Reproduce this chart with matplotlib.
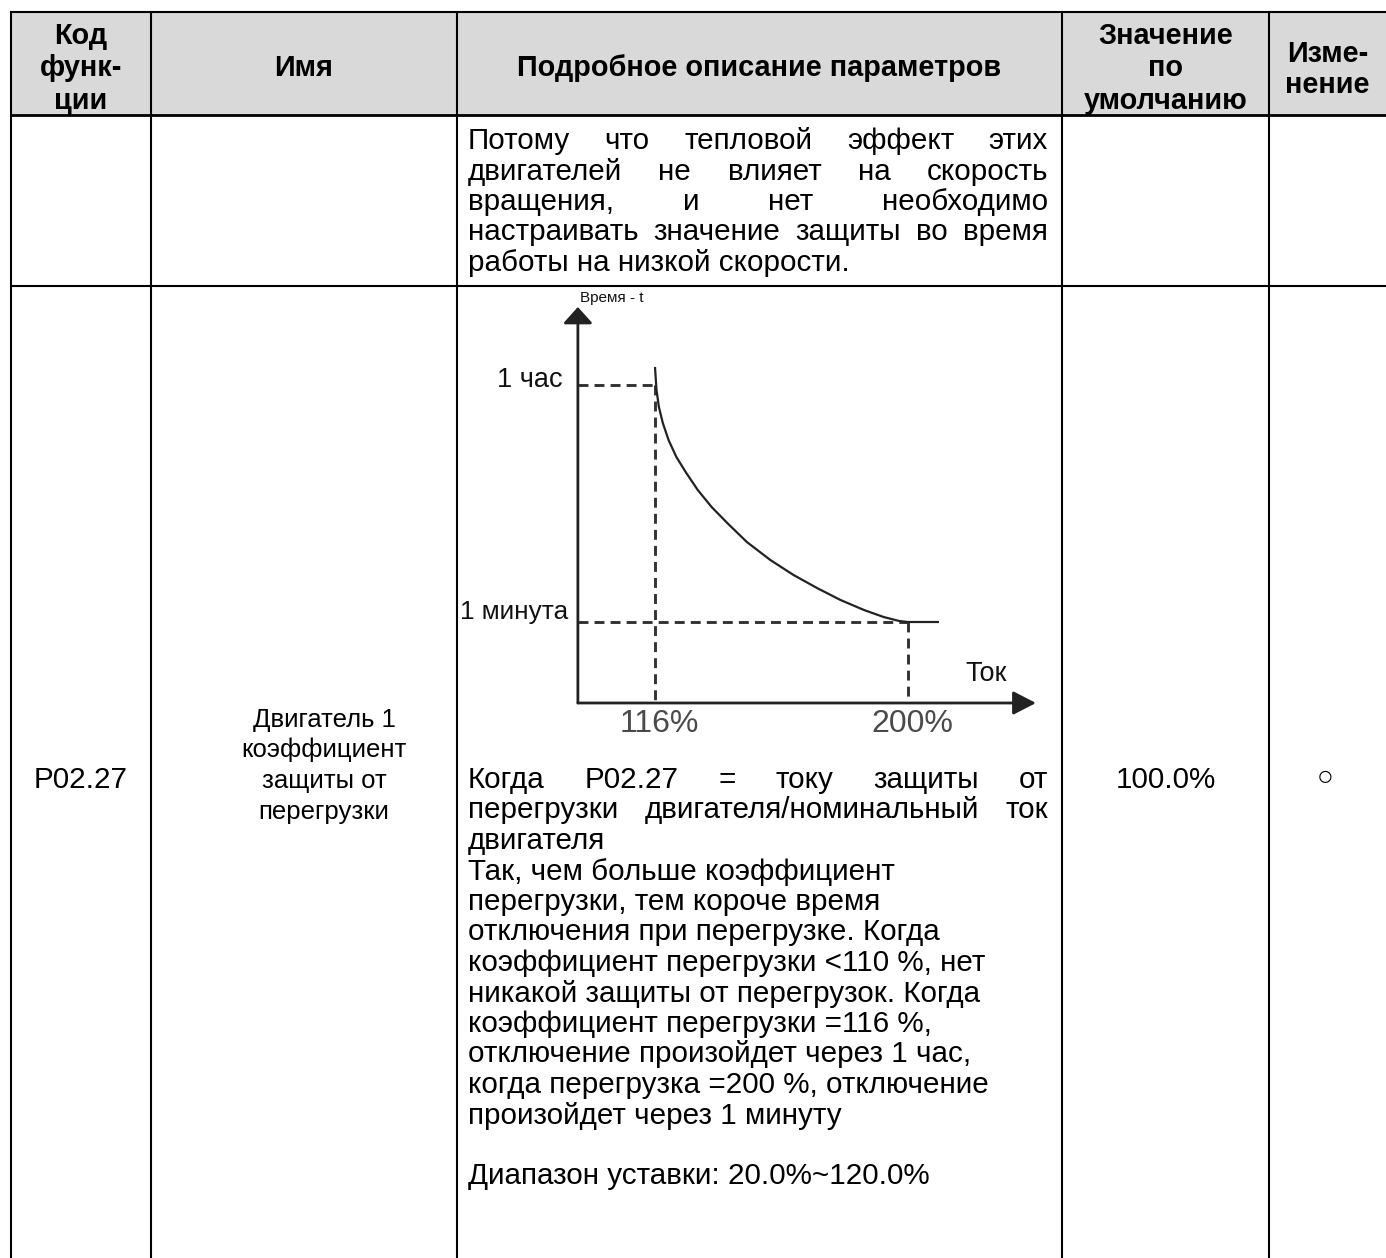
import matplotlib
matplotlib.use("Agg")
import matplotlib.pyplot as plt
from matplotlib.patches import Rectangle

W, H = 1386, 1258
FONT = ["Liberation Sans", "DejaVu Sans"]

# table content
header_code = ["Код", "функ-", "ции"]
header_name = ["Имя"]
header_desc = ["Подробное описание параметров"]
header_default = ["Значение", "по", "умолчанию"]
header_change = ["Изме-", "нение"]

row1_desc = [
    ("Потому что тепловой эффект этих", True),
    ("двигателей не влияет на скорость", True),
    ("вращения, и нет необходимо", True),
    ("настраивать значение защиты во время", True),
    ("работы на низкой скорости.", False),
]

row2_code = "P02.27"
row2_name = ["Двигатель 1", "коэффициент", "защиты от", "перегрузки"]
row2_desc = [
    ("Когда P02.27 = току защиты от", True),
    ("перегрузки двигателя/номинальный ток", True),
    ("двигателя", False),
    ("Так, чем больше коэффициент", False),
    ("перегрузки, тем короче время", False),
    ("отключения при перегрузке. Когда", False),
    ("коэффициент перегрузки <110 %, нет", False),
    ("никакой защиты от перегрузок. Когда", False),
    ("коэффициент перегрузки =116 %,", False),
    ("отключение произойдет через 1 час,", False),
    ("когда перегрузка =200 %, отключение", False),
    ("произойдет через 1 минуту", False),
    ("", False),
    ("Диапазон уставки: 20.0%~120.0%", False),
]
row2_default = "100.0%"
row2_change = "○"

# overload curve (x: current %, y: trip time, arbitrary scale)
curve_x = [116.0, 116.5, 117.3, 118.6, 120.5, 123.1, 126.4, 130.2, 134.8, 140.0,
           146.5, 154.3, 162.0, 169.8, 177.6, 185.4, 191.9, 197.1, 200.0, 210.3]
curve_y = [336, 313, 296, 280, 263, 246, 230, 213, 196, 180,
           161, 143, 128, 115, 103, 93, 86, 82, 81, 81]
tick_currents = [116, 200]
tick_labels = ["116%", "200%"]
time_levels = [318, 81]
time_labels = ["1 час", "1 минута"]

fig = plt.figure(figsize=(W / 100, H / 100), dpi=100)
ax = fig.add_axes([0, 0, 1, 1])
ax.set_xlim(0, W)
ax.set_ylim(H, 0)
ax.axis("off")

col_x = [11, 151, 457, 1062, 1269]
header_top, header_bottom, row1_bottom = 12, 115, 286

ax.add_patch(Rectangle((col_x[0], header_top), W - col_x[0], header_bottom - header_top,
                       facecolor="#d9d9d9", edgecolor="none"))
ax.plot([col_x[0], W], [header_top, header_top], color="black", lw=1.5)
ax.plot([col_x[0], W], [header_bottom, header_bottom], color="black", lw=2.0)
ax.plot([col_x[0], W], [row1_bottom, row1_bottom], color="black", lw=1.5)
for cx in col_x:
    ax.plot([cx, cx], [header_top, H], color="black", lw=1.5)


def centers(i):
    right = col_x[i + 1] if i + 1 < len(col_x) else W
    return (col_x[i] + right) / 2


def put_lines(lines, x, y0, step, **kw):
    for k, s in enumerate(lines):
        ax.text(x, y0 + k * step, s, ha="center", va="baseline", family=FONT, **kw)


hdr = dict(fontsize=20.8, fontweight="bold", color="black")
put_lines(header_code, centers(0), 44, 32.5, **hdr)
put_lines(header_name, centers(1), 76, 32.5, **hdr)
put_lines(header_desc, centers(2), 76, 32.5, **hdr)
put_lines(header_default, centers(3), 44, 32.5, **hdr)
put_lines(header_change, centers(4), 62, 31, **hdr)

fig.canvas.draw()
renderer = fig.canvas.get_renderer()
body = dict(fontsize=21.3, color="black")
text_left, text_right = 468, 1048


def draw_desc(lines, y0, step):
    for k, (s, justify) in enumerate(lines):
        y = y0 + k * step
        if not s:
            continue
        words = s.split(" ")
        if not justify or len(words) < 2:
            ax.text(text_left, y, s, ha="left", va="baseline", family=FONT, **body)
            continue
        objs = [ax.text(0, y, w, ha="left", va="baseline", family=FONT, **body) for w in words]
        widths = [o.get_window_extent(renderer).width for o in objs]
        gap = (text_right - text_left - sum(widths)) / (len(words) - 1)
        x = text_left
        for o, w in zip(objs, widths):
            o.set_x(x)
            x += w + gap


draw_desc(row1_desc, 149, 30.5)
draw_desc(row2_desc, 788, 30.5)

put_lines([row2_code], centers(0), 788, 30.5, **body)
put_lines(row2_name, 324, 727, 30.5, fontsize=18.5, color="black")
put_lines([row2_default], centers(3), 788, 30.5, **body)
ax.text(centers(4) - 2, 778, row2_change, ha="center", va="center", family=FONT,
        fontsize=20, color="black")

# embedded chart
cx0, cx1, cy_top, cy_bot = 560, 1045, 295, 710
ax2 = fig.add_axes([cx0 / W, 1 - cy_bot / H, (cx1 - cx0) / W, (cy_bot - cy_top) / H])
ax2.set_xlim(84.46, 245.5)
ax2.set_ylim(-7, 408)
ax2.axis("off")
ax2.patch.set_alpha(0)

x_origin = 90.4
ax2.annotate("", xy=(242.5, 0), xytext=(x_origin, 0),
             arrowprops=dict(arrowstyle="-|>,head_length=0.7,head_width=0.36",
                             mutation_scale=20, lw=2.0, color="#222222",
                             shrinkA=0, shrinkB=0))
ax2.annotate("", xy=(x_origin, 396), xytext=(x_origin, 0),
             arrowprops=dict(arrowstyle="-|>,head_length=0.5,head_width=0.45",
                             mutation_scale=20, lw=2.0, color="#222222",
                             shrinkA=0, shrinkB=0))

dash = dict(color="#333333", lw=2.1, linestyle=(0, (3.4, 2.1)))
for xc, yl in zip(tick_currents, time_levels):
    ax2.plot([x_origin, xc], [yl, yl], **dash)
    ax2.plot([xc, xc], [yl, 0], **dash)

ax2.plot(curve_x, curve_y, color="#222222", lw=1.6, solid_capstyle="butt",
         solid_joinstyle="round")

for xc, lab in zip(tick_currents, tick_labels):
    ax2.text(xc + 1.5, -21, lab, ha="center", va="center", family=FONT,
             fontsize=23, color="#4a4a4a")
label_x = [85.4, 87.1]
label_dy = [5, 10]
label_size = [19.5, 18.8]
for yl, lab, lx, dy, fs in zip(time_levels, time_labels, label_x, label_dy, label_size):
    ax2.text(lx, yl + dy, lab, ha="right", va="center", family=FONT,
             fontsize=fs, color="#111111")
ax2.text(218.9, 29, "Ток", ha="left", va="center", family=FONT, fontsize=19.5,
         color="#111111")
ax2.text(91.1, 405, "Время - t", ha="left", va="center", family=FONT, fontsize=11,
         color="#111111")

fig.savefig("out.png", dpi=100)
